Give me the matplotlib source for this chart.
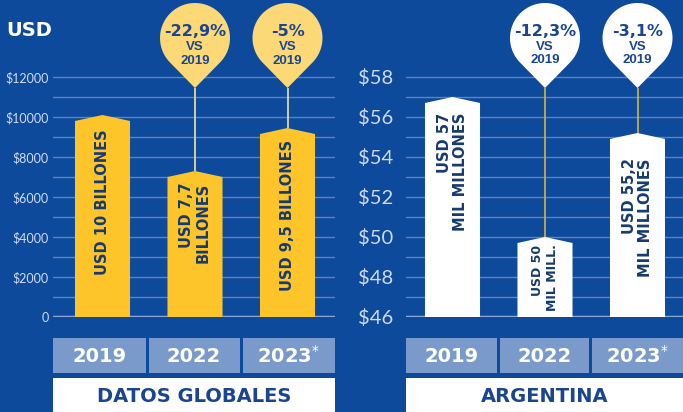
import numpy as np
import matplotlib
matplotlib.use('Agg')
import matplotlib.pyplot as plt
import matplotlib.transforms as mtransforms
from matplotlib.patches import Polygon, Rectangle

# ---- data ----
years = ['2019', '2022', '2023']
year_labels = ['2019', '2022', '2023$^{*}$']

global_vals = [10100, 7300, 9450]          # bar tops
global_text = ['USD 10 BILLONES', 'USD 7,7\nBILLONES', 'USD 9,5 BILLONES']
global_text_y = [5750, 4700, 5100]
global_change = [None, '-22,9%', '-5%']
global_ticks = [0, 2000, 4000, 6000, 8000, 10000, 12000]
global_minor = [1000, 3000, 5000, 7000, 9000, 11000]
global_ticklabels = ['0', '$2000', '$4000', '$6000', '$8000', '$10000', '$12000']

arg_vals = [57, 50, 55.2]
arg_text = ['USD 57\nMIL MILLONES', 'USD 50\nMIL MILL.', 'USD 55,2\nMIL MILLONES']
arg_text_y = [53.25, 47.95, 50.97]
arg_change = [None, '-12,3%', '-3,1%']
arg_ticks = [46, 48, 50, 52, 54, 56, 58]
arg_minor = [47, 49, 51, 53, 55, 57]
arg_ticklabels = ['$46', '$48', '$50', '$52', '$54', '$56', '$58']

# ---- colours ----
BG = '#0e4a9b'
GRID = '#5b82c2'
BASE = '#8ba7d6'
YEL = '#fdc52a'
BALLOON_Y = '#fcd976'
NAVY = '#173a70'
TXT_BLUE = '#1b4590'
BOX = '#7a9acb'
TICK = '#cfdaf0'

W, H = 683, 412
fig = plt.figure(figsize=(W / 100, H / 100), dpi=100, facecolor=BG)


def px_axes(x0, x1, y_top_px):
    # axes from pixel x0..x1, bottom at y_top_px (from top) up to figure top
    return fig.add_axes([x0 / W, (H - y_top_px) / H, (x1 - x0) / W, y_top_px / H])


def balloon(ax, x, tip, color, pct, line_color, v, r=0.35, h=0.50):
    ax.plot([x, x], [v, tip], color=line_color, lw=1.2, zorder=2, solid_capstyle='butt')
    trans = fig.dpi_scale_trans + mtransforms.ScaledTranslation(x, tip, ax.transData)
    th = np.arccos(r / h)
    a = np.linspace(-np.pi / 2 + th, 3 * np.pi / 2 - th, 80)
    pts = [(0, 0)] + [(r * np.cos(t), h + r * np.sin(t)) for t in a] + [(0, 0)]
    ax.add_patch(Polygon(pts, closed=True, transform=trans, facecolor=color,
                         edgecolor='none', clip_on=False, zorder=5))
    ax.text(0, h + 0.06, pct, transform=trans, ha='center', va='center',
            fontsize=11.5, fontweight='bold', color=TXT_BLUE, zorder=6,
            family='DejaVu Sans')
    ax.text(0, h - 0.095, 'VS', transform=trans, ha='center', va='center',
            fontsize=9.5, fontweight='bold', color=TXT_BLUE, zorder=6,
            family='Liberation Sans')
    ax.text(0, h - 0.225, years[0], transform=trans, ha='center', va='center',
            fontsize=9.5, fontweight='bold', color=TXT_BLUE, zorder=6,
            family='Liberation Sans')


def panel(ax, vals, texts, text_y, text_sizes, changes, ticks, minor, ticklabels,
          ylim, bar_color, ball_color, line_color, title, pad, tsize):
    ax.set_facecolor('none')
    for s in ax.spines.values():
        s.set_visible(False)
    ax.set_ylim(*ylim)
    ax.set_yticks(ticks)
    ax.set_yticklabels(ticklabels, family='Lato', color=TICK, fontsize=tsize)
    ax.set_yticks(minor, minor=True)
    ax.set_xticks([])
    ax.tick_params(axis='y', which='both', length=0, pad=pad)
    ax.grid(axis='y', which='both', color=GRID, lw=1.0, zorder=0)
    ax.set_axisbelow(True)
    ax.axhline(ylim[0], color=BASE, lw=2.5, zorder=1)

    per_px = (ylim[1] - ylim[0]) / 317.0
    cap = 6 * per_px
    bw = 0.595
    for i, v in enumerate(vals):
        pts = [(i - bw / 2, ylim[0]), (i - bw / 2, v - cap), (i, v),
               (i + bw / 2, v - cap), (i + bw / 2, ylim[0])]
        ax.add_patch(Polygon(pts, closed=True, facecolor=bar_color,
                             edgecolor='none', zorder=3))
        ax.text(i, text_y[i], texts[i], rotation=90, ha='center', va='center',
                multialignment='right', fontsize=text_sizes[i], fontweight='bold',
                color=NAVY, zorder=4, linespacing=1.15)
        if changes[i]:
            tip = ylim[0] + (317 - 88) * per_px
            balloon(ax, i, tip, ball_color, changes[i], line_color, v)

    # year boxes and title box
    bt = mtransforms.blended_transform_factory(ax.transAxes, fig.transFigure)
    g = 1.5 / (ax.get_position().width * W)
    for i, yl in enumerate(year_labels):
        x0 = i / 3 + (g if i > 0 else 0)
        x1 = (i + 1) / 3 - (g if i < 2 else 0)
        ax.add_patch(Rectangle((x0, (H - 373) / H), x1 - x0, 35 / H, transform=bt,
                               facecolor=BOX, edgecolor='none', clip_on=False))
        ax.text((x0 + x1) / 2, (H - 356) / H, yl, transform=bt, ha='center',
                va='center', fontsize=14, fontweight='bold', color='white')
    ax.add_patch(Rectangle((0, 0), 1, 34 / H, transform=bt, facecolor='white',
                           edgecolor='none', clip_on=False))
    ax.text(0.5, 15 / H, title, transform=bt, ha='center', va='center',
            fontsize=14, fontweight='bold', color=TXT_BLUE)


ax1 = px_axes(53, 335, 317)
ax1.set_xlim(-49.5 / 92.5, (282 - 49.5) / 92.5)
panel(ax1, global_vals, global_text, global_text_y, [10.5, 10.5, 10.5],
      global_change, global_ticks, global_minor, global_ticklabels,
      (0, 317 * 50), YEL, BALLOON_Y, '#f4e3a2', 'DATOS GLOBALES', 3, 9)

ax2 = px_axes(406, 683, 317)
ax2.set_xlim(-46.5 / 92.5, (277 - 46.5) / 92.5)
panel(ax2, arg_vals, arg_text, arg_text_y, [10.5, 9, 10.5],
      arg_change, arg_ticks, arg_minor, arg_ticklabels,
      (46, 46 + 317 / 20), 'white', 'white', '#d9b23a', 'ARGENTINA', 9, 14.5)

fig.text(6 / W, (H - 30) / H, 'USD', ha='left', va='center', fontsize=14,
         fontweight='bold', color='white')

fig.savefig('out.png', dpi=100, facecolor=BG)
